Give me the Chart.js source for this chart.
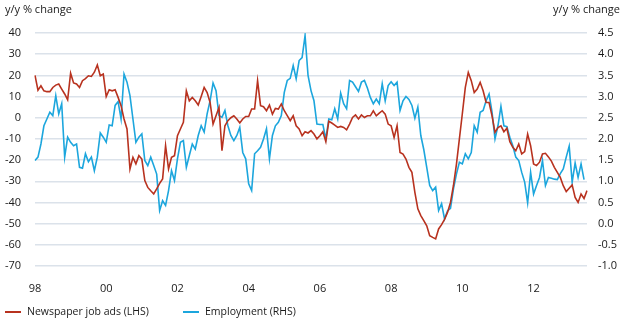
<!DOCTYPE html>
<html>
<head>
<meta charset="utf-8">
<script src="https://cdn.jsdelivr.net/npm/chart.js@4/dist/chart.umd.min.js"></script>
<style>
  html, body { margin: 0; padding: 0; background: #fff; }
  #wrap { position: relative; width: 623px; height: 329px; font-family: "Open Sans", sans-serif; color: #1a1a1a; }
  #wrap canvas { position: absolute; left: 0; top: 0; }
  .unit { position: absolute; top: 1px; font-size: 11px; }
  .legend { position: absolute; top: 304px; font-size: 10.5px; white-space: nowrap; }
  .legend span.swatch { display: inline-block; width: 16px; height: 2px; vertical-align: middle; margin-right: 6px; }
</style>
</head>
<body>
<div id="wrap">
  <canvas id="chart" width="623" height="329"></canvas>
  <div class="unit" style="left:5px;">y/y % change</div>
  <div class="unit" style="right:3px;">y/y % change</div>
  <div class="legend" style="left:5px;"><span class="swatch" style="background:#b8321f"></span>Newspaper job ads (LHS)</div>
  <div class="legend" style="left:183px;"><span class="swatch" style="background:#1ca6dd"></span>Employment (RHS)</div>
</div>
<script>
// ===== Данные (помесячно, янв 1998 – июл 2013) =====
const firstYear = 1998;
const yearTicks = ['98', '00', '02', '04', '06', '08', '10', '12'];

// Newspaper job ads, y/y % (левая ось)
const jobAds = [
    20, 13, 15.1, 12.7, 12.3, 12.3, 14.3, 15.4, 15.9, 13.5, 11.2, 8.5,
    21, 16.4, 15.9, 14.3, 17.5, 18.5, 19.8, 19.5, 21.5, 24.9, 19.8, 20.6,
    10, 13.2, 12.7, 13.2, 9.6, 5.7, -0.6, -5.3, -24.2, -18.7, -21.8, -17.9,
    -19.5, -29.7, -32.9, -34.5, -36, -33.6, -31, -28.9, -13.2, -24.2, -18.7, -17.9,
    -8.5, -5.3, -2.2, 12.7, 8, 9.6, 8, 6, 10, 14.3, 11.9, 7.2,
    -3, 0.9, 4.9, -15.6, -3.8, -1.4, 0, 0.9, -0.6, -2.5, -0.6, 0.6,
    0.6, 4.1, 4.1, 17.5, 5.7, 5.2, 3.3, 6, 1.7, 4.4, 4.1, 6.5,
    3.3, 1, -1.4, 0.9, -3.8, -5.3, -8.5, -6.6, -7.2, -6.1, -7.7, -10,
    -8.5, -6.6, -11.3, -1.7, -2.5, -3.5, -4.6, -4.1, -4.6, -5.7, -3, 0.1,
    1.3, -0.6, 1.3, 0.1, 0.9, 0.9, 3.3, 0.9, 2.2, 3.3, 1.7, -3,
    -3.8, -9.3, -3.8, -16.4, -17.2, -19.5, -23.4, -25.8, -35.2, -43, -46.2, -48.6,
    -51, -55.7, -56.5, -57.2, -52.5, -50.5, -48, -44.7, -40, -32, -22, -10,
    2, 14.3, 21.4, 17.5, 11.9, 13.5, 16.7, 12.7, 7.2, 7.2, 0.9, -6.9,
    -4.6, -3.8, -6.6, -5, -11.3, -14, -15.6, -12.4, -17.1, -16, -7.7, -13.2,
    -21.8, -22.6, -21, -17.1, -16.8, -18.5, -20.5, -23.4, -25.8, -28.2, -32.1, -34.9,
    -33.3, -31.7, -37.6, -40, -36, -38.1, -34.4
];

// Employment, y/y % (правая ось)
const employment = [
    1.49, 1.57, 1.88, 2.31, 2.47, 2.63, 2.55, 3.02, 2.59, 2.83, 1.57, 2.04,
    1.92, 1.84, 1.88, 1.33, 1.31, 1.65, 1.46, 1.57, 1.25, 1.57, 2.14, 2.04,
    1.92, 2.33, 2.31, 2.79, 2.88, 2.47, 3.53, 3.34, 3.02, 2.47, 1.92, 2.04,
    2.12, 1.49, 1.37, 1.57, 1.37, 1.17, 0.31, 0.54, 0.43, 0.78, 1.25, 1.02,
    1.53, 1.92, 1.96, 1.33, 1.61, 1.88, 1.76, 2.08, 2.31, 2.16, 2.59, 2.9,
    3.32, 3.14, 2.55, 2.51, 2.67, 2.31, 2.08, 1.96, 2.08, 2.27, 1.68, 1.53,
    0.94, 0.78, 1.65, 1.72, 1.8, 2.0, 2.24, 1.53, 2.08, 2.31, 2.39, 2.55,
    3.1, 3.38, 3.43, 3.73, 3.42, 3.85, 3.92, 4.44, 3.5, 3.14, 2.9, 2.35,
    2.34, 2.34, 2.0, 2.47, 2.45, 2.71, 2.47, 3.08, 2.83, 2.71, 3.38, 3.34,
    3.23, 3.12, 3.34, 3.38, 3.2, 2.98, 2.83, 2.94, 2.83, 3.3, 2.9, 3.26,
    3.35, 3.26, 3.34, 2.67, 2.9, 3.0, 2.93, 2.79, 2.49, 2.75, 2.08, 1.75,
    1.33, 0.9, 0.78, 0.86, 0.31, 0.47, 0.11, 0.3, 0.36, 0.82, 1.17, 1.45,
    1.41, 1.65, 1.53, 1.68, 2.31, 2.16, 2.63, 2.67, 2.9, 3.06, 2.63, 2.0,
    2.31, 2.77, 2.31, 2.29, 2.04, 1.84, 1.57, 1.49, 1.21, 0.98, 0.49, 1.21,
    0.7, 0.9, 1.09, 1.49, 0.9, 1.09, 1.07, 1.05, 1.04, 1.18, 1.29, 1.57,
    1.83, 0.98, 1.43, 1.09, 1.41, 1.04, null
];

// Метки месяцев
const months = [];
for (let i = 0; i < jobAds.length; i++) {
    const y = firstYear + Math.floor(i / 12);
    months.push(y + '-' + String(i % 12 + 1).padStart(2, '0'));
}

const tickFont = { family: '"Open Sans", sans-serif', size: 11 };
const tickColor = '#1a1a1a';

new Chart(document.getElementById('chart').getContext('2d'), {
    type: 'line',
    data: {
        labels: months,
        datasets: [
            {
                label: 'Newspaper job ads (LHS)',
                data: jobAds,
                yAxisID: 'y',
                borderColor: '#b8321f',
                borderWidth: 1.6,
                pointRadius: 0,
                tension: 0
            },
            {
                label: 'Employment (RHS)',
                data: employment,
                yAxisID: 'y2',
                borderColor: '#1ca6dd',
                borderWidth: 1.6,
                pointRadius: 0,
                tension: 0
            }
        ]
    },
    options: {
        responsive: false,
        animation: false,
        layout: { padding: { top: 33, right: 0, bottom: 0, left: 0 } },
        plugins: { legend: { display: false }, tooltip: { enabled: false } },
        scales: {
            x: {
                grid: { display: false },
                border: { display: false },
                afterFit: s => { s.height = 63; },
                ticks: {
                    autoSkip: false,
                    maxRotation: 0,
                    padding: 8,
                    font: tickFont,
                    color: tickColor,
                    callback: (v, i) => (i % 24 === 0 ? yearTicks[i / 24] : null)
                }
            },
            y: {
                position: 'left',
                min: -70,
                max: 40,
                afterFit: s => { s.width = 35; },
                grid: { color: '#dbe2ea', lineWidth: 1.5, drawTicks: false },
                border: { display: false },
                ticks: { stepSize: 10, padding: 14, font: tickFont, color: tickColor }
            },
            y2: {
                position: 'right',
                min: -1,
                max: 4.5,
                afterFit: s => { s.width = 36; },
                grid: { display: false, drawTicks: false },
                border: { display: false },
                ticks: {
                    stepSize: 0.5,
                    padding: 11,
                    font: tickFont,
                    color: tickColor,
                    callback: v => v.toFixed(1)
                }
            }
        }
    }
});
</script>
</body>
</html>
